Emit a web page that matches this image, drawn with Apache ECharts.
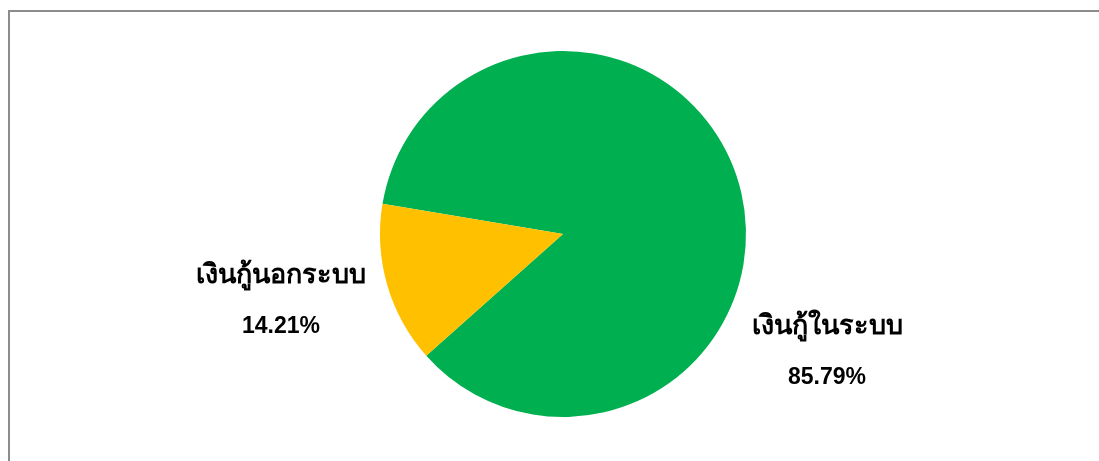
<!DOCTYPE html>
<html>
<head>
<meta charset="utf-8">
<script src="https://cdn.jsdelivr.net/npm/echarts@6/dist/echarts.min.js"></script>
<style>
  html, body { margin: 0; padding: 0; background: #fff; }
  #chart { width: 1099px; height: 461px; }
</style>
</head>
<body>
<div id="chart"></div>
<script>
// Loan sources, share of total (%)
const categories = ['เงินกู้ในระบบ', 'เงินกู้นอกระบบ'];
const shares = [85.79, 14.21];
const sliceColors = ['#00B050', '#FFC000'];

// Where each label block sits (centre of the two-line text)
const labelCentres = [[827, 352], [281, 301]];

const chart = echarts.init(document.getElementById('chart'), null, { renderer: 'canvas' });

chart.setOption({
  backgroundColor: '#ffffff',
  animation: false,
  graphic: [{
    type: 'rect',
    shape: { x: 9, y: 11, width: 1200, height: 600 },
    style: { fill: 'none', stroke: '#8c8c8c', lineWidth: 2 },
    silent: true
  }],
  series: [{
    type: 'pie',
    center: [563, 234],
    radius: [0, 183],
    startAngle: 170.5,
    clockwise: true,
    data: categories.map((name, i) => ({
      name,
      value: shares[i],
      itemStyle: { color: sliceColors[i] }
    })),
    label: {
      show: true,
      position: 'outside',
      formatter: '{n|{b}}\n{p|{d}%}',
      rich: {
        n: { fontSize: 27, fontWeight: 'bold', color: '#000', lineHeight: 51,
             fontFamily: 'Tahoma, "Liberation Sans", Arial, sans-serif' },
        p: { fontSize: 23, fontWeight: 'bold', color: '#000', lineHeight: 51,
             fontFamily: '"Liberation Sans", Arial, sans-serif' }
      },
      align: 'center'
    },
    labelLine: { show: false },
    labelLayout: function (params) {
      const c = labelCentres[params.dataIndex];
      return { x: c[0], y: c[1], align: 'center', verticalAlign: 'middle' };
    },
    emphasis: { disabled: true }
  }]
});
</script>
</body>
</html>
